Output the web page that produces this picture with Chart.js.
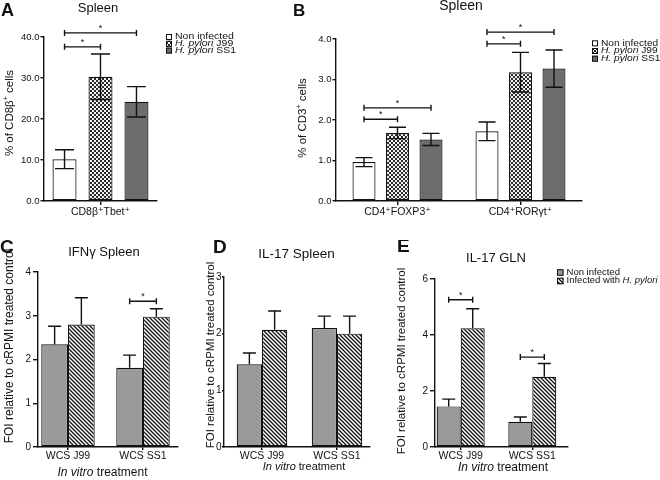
<!DOCTYPE html>
<html><head><meta charset="utf-8">
<script src="https://cdn.jsdelivr.net/npm/chart.js@4.4.1/dist/chart.umd.min.js"></script>
<style>
html,body{margin:0;padding:0;background:#fff;width:660px;height:480px;overflow:hidden;position:relative}
canvas{position:absolute}
</style></head><body>
<canvas id="cA"></canvas><canvas id="cB"></canvas><canvas id="cC"></canvas><canvas id="cD"></canvas><canvas id="cE"></canvas>
<script>
// ---------------- DATA ----------------
const seriesTop = ['Non infected', 'H. pylori J99', 'H. pylori SS1'];
const seriesBottom = ['Non infected', 'Infected with H. pylori'];

// Panel A: % of CD8β+ cells (Spleen)
const catA = ['CD8β⁺Tbet⁺'];
const aNon = [10.2], aNonErr = [2.3];
const aJ99 = [30.3], aJ99Err = [5.55];
const aSS1 = [24.2], aSS1Err = [3.7];
const sigA = [{a: 0, b: 1, cat: 0, level: 37.6}, {a: 0, b: 2, cat: 0, level: 41.0}];

// Panel B: % of CD3+ cells (Spleen)
const catB = ['CD4⁺FOXP3⁺', 'CD4⁺RORγt⁺'];
const bNon = [0.96, 1.72], bNonErr = [0.11, 0.23];
const bJ99 = [1.68, 3.18], bJ99Err = [0.14, 0.49];
const bSS1 = [1.52, 3.27], bSS1Err = [0.15, 0.46];
const sigB = [{a: 0, b: 1, cat: 0, level: 2.02}, {a: 0, b: 2, cat: 0, level: 2.30},
              {a: 0, b: 1, cat: 1, level: 3.88}, {a: 0, b: 2, cat: 1, level: 4.17}];

// Panels C-E: FOI relative to cRPMI treated control
const catCDE = ['WCS J99', 'WCS SS1'];
const cNon = [2.35, 1.81], cNonErr = [0.41, 0.29];
const cInf = [2.80, 2.98], cInfErr = [0.61, 0.18];
const sigC = [{a: 0, b: 1, cat: 1, level: 3.33}];

const dNon = [1.46, 2.10], dNonErr = [0.20, 0.21];
const dInf = [2.07, 2.00], dInfErr = [0.33, 0.31];
const sigD = [];

const eNon = [1.45, 0.90], eNonErr = [0.26, 0.17];
const eInf = [4.24, 2.51], eInfErr = [0.70, 0.47];
const sigE = [{a: 0, b: 1, cat: 0, level: 5.26}, {a: 0, b: 1, cat: 1, level: 3.21}];

// ---------------- STYLE ----------------
const FONT = '"Liberation Sans", Arial, "DejaVu Sans", sans-serif';
const INK = '#111';

function makePattern(kind) {
  const c = document.createElement('canvas');
  const g = c.getContext('2d');
  c.width = 4; c.height = 4;
  if (kind === 'check') {
    g.fillStyle = '#f2f2f2'; g.fillRect(0, 0, 4, 4);
    g.fillStyle = '#2a2a2a'; g.fillRect(0, 0, 2, 2); g.fillRect(2, 2, 2, 2);
  } else {
    g.fillStyle = '#fff'; g.fillRect(0, 0, 4, 4);
    g.strokeStyle = '#111'; g.lineWidth = 1.3;
    g.beginPath();
    g.moveTo(-1, -1); g.lineTo(5, 5);
    g.moveTo(-1, 3); g.lineTo(1, 5);
    g.moveTo(3, -1); g.lineTo(5, 1);
    g.stroke();
  }
  return g.createPattern(c, 'repeat');
}
const fillWhite = '#ffffff';
const fillCheck = makePattern('check');
const fillSS1 = '#6d6d6d';
const fillGray = '#9a9a9a';
const fillHatch = makePattern('hatch');

// ---------------- TEXT HELPER ----------------
function drawRich(ctx, t) {
  const size = t.size || 10;
  const sx = t.sx || 1;
  const fontOf = (s) => (s.i ? 'italic ' : '') + (t.bold ? 'bold ' : '') + (s.sup ? size * 0.62 : size) + 'px ' + FONT;
  let total = 0;
  const parts = t.segs.map(s => {
    const seg = (typeof s === 'string') ? {t: s} : s;
    ctx.font = fontOf(seg);
    const w = ctx.measureText(seg.t).width;
    total += w;
    return {seg: seg, w: w};
  });
  ctx.save();
  ctx.translate(t.x, t.y);
  if (t.rot) ctx.rotate(t.rot);
  ctx.scale(sx, 1);
  ctx.fillStyle = t.color || INK;
  ctx.textBaseline = 'middle';
  ctx.textAlign = 'left';
  let x = t.align === 'left' ? 0 : t.align === 'right' ? -total : -total / 2;
  parts.forEach(p => {
    ctx.font = fontOf(p.seg);
    ctx.fillText(p.seg.t, x, p.seg.sup ? -size * 0.38 : 0);
    x += p.w;
  });
  ctx.restore();
}

// ---------------- OVERLAY PLUGIN (per chart, closure config) ----------------
function makeOverlay(o, off) {
  return {
    id: 'overlay',
    afterDatasetsDraw(chart) {
      const ctx = chart.ctx;
      const ys = chart.scales.y;
      ctx.save();
      ctx.strokeStyle = INK;
      ctx.lineWidth = 1.4;
      chart.data.datasets.forEach((ds, di) => {
        const meta = chart.getDatasetMeta(di);
        meta.data.forEach((bar, i) => {
          const d = ds.data[i];
          const v = typeof d === 'object' ? d.y : d;
          const e = ds.err[i];
          const yt = ys.getPixelForValue(v + e);
          const yb = o.bothSides ? ys.getPixelForValue(v - e) : bar.y;
          const h = o.cap / 2;
          ctx.beginPath();
          ctx.moveTo(bar.x, yb); ctx.lineTo(bar.x, yt);
          ctx.moveTo(bar.x - h, yt); ctx.lineTo(bar.x + h, yt);
          if (o.bothSides) { ctx.moveTo(bar.x - h, yb); ctx.lineTo(bar.x + h, yb); }
          ctx.stroke();
        });
      });
      o.sig.forEach(s => {
        const x1 = chart.getDatasetMeta(s.a).data[s.cat].x;
        const x2 = chart.getDatasetMeta(s.b).data[s.cat].x;
        const yy = ys.getPixelForValue(s.level);
        ctx.beginPath();
        ctx.moveTo(x1, yy); ctx.lineTo(x2, yy);
        ctx.moveTo(x1, yy - 3); ctx.lineTo(x1, yy + 3);
        ctx.moveTo(x2, yy - 3); ctx.lineTo(x2, yy + 3);
        ctx.stroke();
        ctx.fillStyle = INK;
        ctx.font = '9px ' + FONT;
        ctx.textAlign = 'center';
        ctx.textBaseline = 'alphabetic';
        ctx.fillText('*', (x1 + x2) / 2, yy - 2);
      });
      ctx.restore();
    },
    afterDraw(chart) {
      const ctx = chart.ctx;
      ctx.save();
      ctx.translate(-off[0], -off[1]);
      (o.texts || []).forEach(t => drawRich(ctx, t));
      if (o.legend) {
        const L = o.legend;
        chart.data.datasets.forEach((ds, i) => {
          const cy = L.y + i * L.dy;
          ctx.fillStyle = ds.backgroundColor;
          ctx.fillRect(L.x, cy - L.box / 2, L.box, L.box);
          ctx.strokeStyle = INK; ctx.lineWidth = 1;
          ctx.strokeRect(L.x + 0.5, cy - L.box / 2 + 0.5, L.box - 1, L.box - 1);
          drawRich(ctx, {segs: L.labels[i], x: L.x + L.box + L.gap, y: cy, size: L.size, sx: L.sx, align: 'left'});
        });
      }
      ctx.restore();
    }
  };
}

// ---------------- CHART BUILDER ----------------
function makeChart(id, box, area, cfg) {
  const cv = document.getElementById(id);
  cv.width = box.w; cv.height = box.h;
  cv.style.left = box.x + 'px'; cv.style.top = box.y + 'px';
  const yW = area.left - box.x, xH = box.y + box.h - area.bottom;
  const axisGrid = {display: true, drawOnChartArea: false, drawTicks: true, tickLength: cfg.xTickLen || 4, color: INK, lineWidth: 1.4, offset: false};
  let xScale;
  if (cfg.linear) {
    xScale = {
      type: 'linear', min: cfg.xmin, max: cfg.xmax, offset: false, grace: 0,
      afterBuildTicks: s => { s.ticks = cfg.labels.map((_, i) => ({value: i + 1})); },
      ticks: {callback: v => cfg.labels[Math.round(v) - 1] || '', color: INK, font: {family: FONT, size: cfg.xFont}, padding: 0, maxRotation: 0, autoSkip: false},
      grid: axisGrid, border: {display: true, color: INK, width: 1.4},
      afterFit: s => { s.height = xH; }
    };
  } else {
    xScale = {
      type: 'category', offset: true,
      ticks: {color: INK, font: {family: FONT, size: cfg.xFont}, padding: 1, maxRotation: 0, autoSkip: false},
      grid: axisGrid, border: {display: true, color: INK, width: 1.4},
      afterFit: s => { s.height = xH; }
    };
  }
  return new Chart(cv, {
    type: 'bar',
    data: {labels: cfg.linear ? undefined : cfg.labels, datasets: cfg.datasets.map(d => Object.assign({
      borderColor: INK, borderWidth: 1.2, borderSkipped: false,
      categoryPercentage: cfg.catPct, barPercentage: cfg.barPct
    }, d))},
    options: {
      responsive: false, animation: false, devicePixelRatio: 1,
      layout: {padding: {left: 0, top: area.top - box.y, right: box.x + box.w - area.right, bottom: 0}},
      plugins: {legend: {display: false}, tooltip: {enabled: false}, title: {display: false}},
      scales: {
        x: xScale,
        y: {
          min: cfg.ymin, max: cfg.ymax,
          ticks: {stepSize: cfg.step, callback: cfg.yFmt, color: INK, font: {family: FONT, size: cfg.yFont}, padding: cfg.yPad},
          grid: Object.assign({}, axisGrid, {tickLength: cfg.yTickLen}),
          border: {display: true, color: INK, width: 1.4},
          afterFit: s => { s.width = yW; }
        }
      }
    },
    plugins: [makeOverlay(cfg.overlay, [box.x, box.y])]
  });
}
const xy = arr => arr.map((v, i) => ({x: i + 1, y: v}));
const f1 = v => v.toFixed(1);
const f0 = v => String(v);
const itHP = rest => [{t: 'H. pylori', i: true}, {t: rest}];
const inVitro = () => [{t: 'In vitro', i: true}, {t: ' treatment'}];
const foi = () => [{t: 'FOI relative to cRPMI treated control'}];

// ---------------- PANEL A ----------------
makeChart('cA', {x: 0, y: 0, w: 245, h: 240}, {left: 44, right: 157, top: 37, bottom: 201}, {
  labels: catA, xFont: 10.5, yFont: 9.5, ymin: 0, ymax: 40, step: 10, yFmt: f1, yTickLen: 3.5, yPad: 1,
  catPct: 0.955, barPct: 0.667,
  datasets: [
    {label: seriesTop[0], data: aNon, err: aNonErr, backgroundColor: fillWhite},
    {label: seriesTop[1], data: aJ99, err: aJ99Err, backgroundColor: fillCheck},
    {label: seriesTop[2], data: aSS1, err: aSS1Err, backgroundColor: fillSS1}
  ],
  overlay: {
    bothSides: true, cap: 19, sig: sigA,
    texts: [
      {segs: [{t: 'A'}], x: 1, y: 11.5, size: 18, bold: true, align: 'left'},
      {segs: [{t: 'Spleen'}], x: 98, y: 8.5, size: 13},
      {segs: [{t: '% of CD8β'}, {t: '+', sup: true}, {t: ' cells'}], x: 10, y: 113, size: 11.5, rot: -Math.PI / 2}
    ],
    legend: {x: 166, y: 37, dy: 6.8, box: 6, gap: 3, size: 8.2, sx: 1.28,
      labels: [[{t: 'Non infected'}], itHP(' J99'), itHP(' SS1')]}
  }
});

// ---------------- PANEL B ----------------
makeChart('cB', {x: 245, y: 0, w: 415, h: 240}, {left: 336, right: 582, top: 39, bottom: 201}, {
  labels: catB, xFont: 10.5, yFont: 9.5, ymin: 0, ymax: 4, step: 1, yFmt: f1, yTickLen: 3.5, yPad: 1,
  catPct: 0.817, barPct: 0.687,
  datasets: [
    {label: seriesTop[0], data: bNon, err: bNonErr, backgroundColor: fillWhite},
    {label: seriesTop[1], data: bJ99, err: bJ99Err, backgroundColor: fillCheck},
    {label: seriesTop[2], data: bSS1, err: bSS1Err, backgroundColor: fillSS1}
  ],
  overlay: {
    bothSides: true, cap: 17, sig: sigB,
    texts: [
      {segs: [{t: 'B'}], x: 293, y: 11, size: 17, bold: true, align: 'left'},
      {segs: [{t: 'Spleen'}], x: 461, y: 6.5, size: 14},
      {segs: [{t: '% of CD3'}, {t: '+', sup: true}, {t: ' cells'}], x: 303, y: 118, size: 11.5, rot: -Math.PI / 2}
    ],
    legend: {x: 592, y: 43.3, dy: 7.7, box: 6, gap: 3, size: 8.5, sx: 1.2,
      labels: [[{t: 'Non infected'}], itHP(' J99'), itHP(' SS1')]}
  }
});

// ---------------- PANEL C ----------------
makeChart('cC', {x: 0, y: 240, w: 205, h: 240}, {left: 38, right: 178, top: 272, bottom: 447}, {
  linear: true, xmin: 0.6, xmax: 2.4667, xTickLen: 3,
  labels: catCDE, xFont: 10.5, yFont: 10, ymin: 0, ymax: 4, step: 1, yFmt: f0, yTickLen: 5, yPad: 2,
  catPct: 0.713, barPct: 1,
  datasets: [
    {label: seriesBottom[0], data: xy(cNon), err: cNonErr, backgroundColor: fillGray},
    {label: seriesBottom[1], data: xy(cInf), err: cInfErr, backgroundColor: fillHatch}
  ],
  overlay: {
    bothSides: false, cap: 13, sig: sigC,
    texts: [
      {segs: [{t: 'C'}], x: 0, y: 248, size: 19, bold: true, align: 'left'},
      {segs: [{t: 'IFNγ Spleen'}], x: 104, y: 252, size: 13},
      {segs: foi(), x: 10, y: 346, size: 12, rot: -Math.PI / 2},
      {segs: inVitro(), x: 102.5, y: 473, size: 12}
    ]
  }
});

// ---------------- PANEL D ----------------
makeChart('cD', {x: 205, y: 240, w: 190, h: 240}, {left: 224, right: 370, top: 277, bottom: 447}, {
  linear: true, xmin: 0.4933, xmax: 2.44, xTickLen: 3,
  labels: catCDE, xFont: 10.5, yFont: 10, ymin: 0, ymax: 3, step: 1, yFmt: f0, yTickLen: 2, yPad: 0.5,
  catPct: 0.673, barPct: 1,
  datasets: [
    {label: seriesBottom[0], data: xy(dNon), err: dNonErr, backgroundColor: fillGray},
    {label: seriesBottom[1], data: xy(dInf), err: dInfErr, backgroundColor: fillHatch}
  ],
  overlay: {
    bothSides: false, cap: 13, sig: sigD,
    texts: [
      {segs: [{t: 'D'}], x: 213, y: 248, size: 19, bold: true, align: 'left'},
      {segs: [{t: 'IL-17 Spleen'}], x: 296.5, y: 254, size: 13.5},
      {segs: foi(), x: 211, y: 355, size: 11.5, rot: -Math.PI / 2},
      {segs: inVitro(), x: 304, y: 467, size: 11}
    ]
  }
});

// ---------------- PANEL E ----------------
makeChart('cE', {x: 395, y: 240, w: 265, h: 240}, {left: 435, right: 568, top: 279, bottom: 447}, {
  linear: true, xmin: 0.641, xmax: 2.4986, xTickLen: 3,
  labels: catCDE, xFont: 10.5, yFont: 10, ymin: 0, ymax: 6, step: 2, yFmt: f0, yTickLen: 5, yPad: 2,
  catPct: 0.67, barPct: 1,
  datasets: [
    {label: seriesBottom[0], data: xy(eNon), err: eNonErr, backgroundColor: fillGray},
    {label: seriesBottom[1], data: xy(eInf), err: eInfErr, backgroundColor: fillHatch}
  ],
  overlay: {
    bothSides: false, cap: 13, sig: sigE,
    texts: [
      {segs: [{t: 'E'}], x: 397, y: 247, size: 19, bold: true, align: 'left'},
      {segs: [{t: 'IL-17 GLN'}], x: 496, y: 258, size: 13},
      {segs: foi(), x: 402, y: 361, size: 11.5, rot: -Math.PI / 2},
      {segs: inVitro(), x: 503, y: 468, size: 12}
    ],
    legend: {x: 557, y: 272.5, dy: 8.5, box: 6.5, gap: 3, size: 8.5, sx: 1.12,
      labels: [[{t: 'Non infected'}], [{t: 'Infected with '}, {t: 'H. pylori', i: true}]]}
  }
});
</script>
</body></html>
